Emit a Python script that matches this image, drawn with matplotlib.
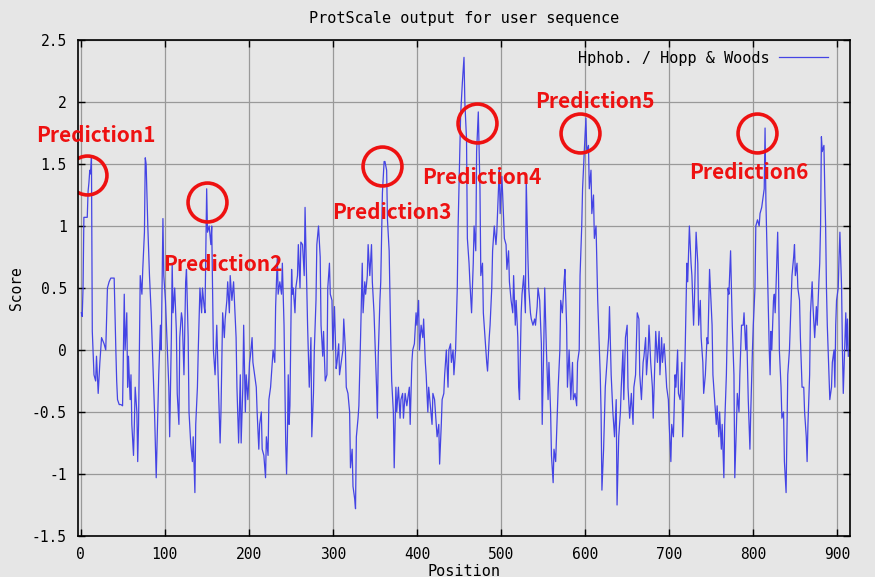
#!/usr/bin/env python3

# INFRASTRUCTURE
from pathlib import Path

import matplotlib
matplotlib.use('Agg')
import matplotlib.pyplot as plt


# DATA
positions = [
    1, 2, 3, 4, 6, 8, 9, 10, 11, 12, 13, 14, 16, 18, 19, 21, 23, 25, 28, 30,
    32, 34, 36, 38, 40, 42, 43, 44, 46, 48, 50, 52, 53, 55, 56, 57, 59, 60, 61, 63,
    64, 65, 67, 68, 69, 71, 73, 74, 76, 77, 78, 80, 82, 84, 86, 88, 90, 91, 93, 95,
    96, 98, 99, 101, 103, 105, 106, 108, 109, 110, 112, 114, 115, 117, 118, 120, 121, 123, 125, 126,
    128, 129, 131, 133, 134, 136, 137, 139, 140, 142, 144, 145, 147, 148, 150, 151, 153, 155, 156, 158,
    160, 162, 164, 166, 167, 169, 171, 172, 174, 175, 177, 178, 180, 182, 183, 185, 186, 188, 190, 191,
    193, 194, 196, 197, 199, 201, 202, 204, 205, 207, 209, 210, 212, 213, 215, 216, 218, 220, 221, 223,
    224, 226, 228, 229, 231, 232, 234, 235, 237, 239, 240, 242, 243, 244, 245, 246, 247, 248, 249, 251,
    252, 253, 255, 256, 258, 259, 261, 262, 264, 266, 267, 269, 270, 272, 274, 275, 277, 278, 280, 281,
    283, 285, 286, 288, 289, 291, 293, 294, 296, 297, 299, 300, 302, 304, 305, 307, 308, 310, 312, 313,
    315, 316, 318, 320, 321, 323, 324, 326, 327, 328, 330, 331, 333, 335, 336, 338, 339, 341, 342, 344,
    346, 347, 349, 350, 352, 353, 354, 356, 357, 359, 361, 362, 364, 365, 367, 369, 370, 372, 373, 375,
    376, 378, 380, 381, 383, 384, 386, 388, 389, 391, 392, 394, 395, 397, 399, 400, 402, 403, 405, 407,
    408, 410, 411, 413, 414, 416, 418, 419, 421, 422, 424, 426, 427, 429, 430, 432, 433, 435, 437, 438,
    440, 441, 443, 444, 446, 448, 449, 451, 452, 454, 456, 457, 459, 460, 462, 463, 465, 467, 468, 470,
    471, 473, 475, 476, 478, 479, 481, 483, 484, 486, 487, 489, 490, 492, 494, 495, 497, 498, 499, 501,
    502, 504, 506, 507, 509, 510, 512, 514, 515, 517, 518, 520, 521, 522, 524, 525, 527, 529, 530, 532,
    533, 535, 536, 538, 540, 541, 543, 544, 546, 548, 549, 551, 552, 554, 556, 557, 559, 560, 562, 563,
    565, 567, 568, 570, 571, 573, 575, 576, 578, 579, 581, 583, 585, 586, 588, 590, 591, 593, 594, 596,
    597, 599, 601, 602, 604, 605, 607, 608, 610, 611, 613, 615, 616, 618, 619, 620, 622, 624, 626, 628,
    629, 631, 633, 635, 637, 638, 640, 642, 643, 645, 646, 648, 650, 651, 653, 655, 657, 658, 660, 662,
    664, 665, 667, 669, 670, 672, 673, 675, 676, 678, 680, 681, 683, 684, 686, 688, 689, 691, 692, 694,
    695, 697, 699, 700, 702, 703, 705, 707, 708, 710, 711, 713, 715, 716, 718, 719, 721, 722, 724, 726,
    727, 729, 730, 732, 734, 735, 737, 738, 740, 741, 743, 745, 746, 748, 749, 751, 752, 754, 756, 757,
    759, 760, 762, 763, 765, 766, 767, 768, 770, 771, 773, 774, 775, 777, 778, 780, 781, 783, 784, 786,
    788, 789, 791, 792, 794, 796, 797, 799, 800, 802, 803, 805, 807, 808, 810, 811, 813, 814, 815, 817,
    818, 819, 820, 821, 822, 824, 825, 826, 827, 829, 830, 831, 833, 834, 836, 837, 839, 840, 841, 843,
    844, 846, 848, 849, 850, 852, 853, 855, 856, 858, 860, 861, 863, 864, 865, 867, 868, 870, 871, 873,
    875, 876, 878, 879, 880, 881, 882, 884, 885, 886, 887, 888, 890, 891, 892, 893, 894, 896, 897, 898,
    899, 901, 902, 903, 905, 906, 907, 909, 910, 911, 912, 913,
]

scores = [
    0.30, 0.27, 0.50, 1.07, 1.07, 1.07, 1.28, 1.35, 1.45, 1.42, 1.55, 0.15, -0.20, -0.25, -0.05, -0.35, -0.10, 0.10, 0.05, 0.00,
    0.50, 0.55, 0.58, 0.58, 0.58, 0.00, -0.25, -0.40, -0.44, -0.44, -0.45, 0.45, 0.00, 0.30, -0.30, -0.05, -0.40, -0.20, -0.60, -0.85,
    -0.60, -0.30, -0.50, -0.90, -0.60, 0.60, 0.45, 0.65, 0.95, 1.55, 1.50, 1.00, 0.60, 0.30, -0.10, -0.50, -1.03, -0.75, -0.20, 0.20,
    0.00, 1.06, 0.60, 0.40, 0.05, -0.30, -0.70, 0.10, 0.70, 0.30, 0.50, 0.15, -0.35, -0.60, 0.10, 0.30, 0.25, -0.20, 0.55, 0.65,
    0.10, -0.50, -0.75, -0.90, -0.70, -1.15, -0.60, -0.30, 0.00, 0.50, 0.30, 0.50, 0.35, 0.30, 1.30, 0.95, 1.00, 0.85, 1.00, 0.00,
    -0.20, 0.20, -0.30, -0.75, -0.50, 0.30, 0.10, 0.25, 0.40, 0.55, 0.30, 0.60, 0.40, 0.55, 0.40, 0.10, -0.30, -0.75, -0.20, -0.75,
    -0.30, 0.20, -0.50, -0.20, -0.40, -0.10, -0.05, 0.10, -0.10, -0.20, -0.30, -0.50, -0.80, -0.60, -0.50, -0.80, -0.85, -1.03, -0.70, -0.85,
    -0.40, -0.30, -0.10, 0.00, -0.10, 0.35, 0.75, 0.45, 0.55, 0.45, 0.70, 0.20, -0.30, -0.75, -1.00, -0.70, -0.20, -0.60, -0.45, 0.65,
    0.45, 0.50, 0.30, 0.50, 0.60, 0.85, 0.50, 0.87, 0.85, 0.60, 1.15, 0.50, 0.20, -0.30, 0.10, -0.70, -0.35, 0.00, 0.40, 0.85,
    1.00, 0.75, 0.20, -0.05, 0.15, -0.25, -0.20, 0.50, 0.70, 0.45, 0.40, 0.00, 0.35, -0.15, -0.10, 0.05, -0.20, -0.10, 0.00, 0.25,
    0.00, -0.30, -0.35, -0.50, -0.95, -0.80, -1.10, -1.20, -1.28, -0.70, -0.55, -0.45, 0.10, 0.70, 0.30, 0.55, 0.45, 0.60, 0.85, 0.60,
    0.85, 0.55, 0.30, 0.10, -0.30, -0.55, -0.05, 0.40, 0.55, 1.27, 1.52, 1.52, 1.45, 1.05, 0.80, 0.05, -0.25, -0.50, -0.95, -0.30,
    -0.50, -0.30, -0.55, -0.40, -0.35, -0.55, -0.35, -0.45, -0.40, -0.30, -0.60, -0.10, 0.00, 0.05, 0.30, 0.20, 0.40, 0.00, 0.20, 0.10,
    0.25, -0.10, -0.20, -0.50, -0.30, -0.45, -0.60, -0.35, -0.40, -0.50, -0.70, -0.60, -0.92, -0.60, -0.40, -0.35, -0.20, 0.00, -0.30, 0.00,
    0.05, -0.10, 0.00, -0.20, 0.00, 0.50, 1.00, 1.60, 1.90, 2.15, 2.36, 2.00, 1.70, 0.90, 0.70, 0.55, 0.30, 0.70, 1.00, 0.80,
    1.60, 1.92, 1.30, 0.60, 0.70, 0.30, 0.10, -0.10, -0.17, 0.10, 0.20, 0.50, 0.80, 1.00, 0.85, 0.95, 1.30, 1.45, 1.10, 1.40,
    1.25, 0.90, 0.85, 0.65, 0.80, 0.55, 0.40, 0.30, 0.60, 0.20, 0.40, 0.10, -0.30, -0.40, 0.30, 0.45, 0.60, 0.30, 1.38, 0.75,
    0.50, 0.30, 0.25, 0.20, 0.25, 0.20, 0.35, 0.50, 0.40, 0.05, -0.60, 0.10, 0.50, 0.00, -0.40, -0.10, -0.50, -0.85, -1.07, -0.80,
    -0.90, -0.50, -0.30, 0.00, 0.40, 0.30, 0.55, 0.65, 0.20, -0.30, 0.00, -0.40, -0.10, -0.40, -0.35, -0.45, -0.10, 0.00, 0.60, 1.00,
    1.30, 1.60, 1.87, 1.60, 1.65, 1.30, 1.45, 1.10, 1.25, 0.90, 1.00, 0.40, 0.20, -0.20, -0.50, -1.13, -0.80, -0.30, -0.10, 0.10,
    0.35, -0.20, -0.50, -0.70, -0.40, -1.25, -0.70, -0.50, -0.30, 0.00, -0.40, 0.10, 0.20, -0.30, -0.55, -0.35, -0.60, -0.30, -0.20, 0.30,
    0.25, -0.20, -0.40, -0.10, -0.05, 0.10, -0.20, 0.00, 0.20, -0.10, -0.30, -0.55, -0.10, 0.15, -0.10, 0.15, -0.20, 0.10, -0.10, 0.05,
    -0.05, -0.30, -0.40, -0.60, -0.90, -0.60, -0.70, -0.20, -0.30, 0.00, -0.35, -0.40, -0.10, -0.70, -0.30, 0.00, 0.70, 0.55, 1.00, 0.70,
    0.60, 0.20, 0.40, 0.95, 0.70, 0.20, 0.40, 0.10, -0.10, -0.35, -0.20, 0.10, 0.05, 0.65, 0.50, 0.20, -0.20, -0.40, -0.60, -0.45,
    -0.70, -0.50, -0.80, -0.60, -1.03, -0.60, -0.40, -0.20, 0.50, 0.45, 0.80, 0.50, 0.20, -0.20, -1.03, -0.60, -0.35, -0.50, -0.20, 0.20,
    0.20, 0.30, 0.00, 0.20, -0.40, -0.80, -0.50, 0.00, 0.20, 0.50, 1.00, 1.05, 1.00, 1.10, 1.15, 1.20, 1.30, 1.79, 1.20, 0.60,
    0.30, 0.00, -0.20, 0.15, 0.00, 0.40, 0.45, 0.30, 0.50, 0.95, 0.60, 0.00, -0.30, -0.55, -0.50, -0.90, -1.15, -0.70, -0.20, 0.00,
    0.20, 0.60, 0.75, 0.85, 0.60, 0.70, 0.50, 0.40, 0.10, -0.30, -0.30, -0.50, -0.70, -0.90, -0.60, -0.20, 0.30, 0.55, 0.35, 0.10,
    0.35, 0.20, 0.55, 0.70, 1.00, 1.72, 1.60, 1.65, 1.30, 1.00, 0.50, 0.20, -0.20, -0.40, -0.35, -0.30, -0.10, 0.00, -0.30, 0.20,
    0.40, 0.50, 0.75, 0.95, 0.50, 0.00, -0.35, 0.10, 0.30, 0.00, 0.25, -0.05,
]

# Red hand-drawn marks: circle centres and label centres (position, score)
circle_pos = [8, 150, 358, 471, 594, 805]
circle_score = [1.41, 1.19, 1.48, 1.83, 1.75, 1.75]
label_text = ['Prediction1', 'Prediction2', 'Prediction3', 'Prediction4', 'Prediction5', 'Prediction6']
label_pos = [18, 169, 370, 477, 612, 795]
label_score = [1.73, 0.69, 1.11, 1.39, 2.0, 1.43]

y_ticks = [-1.5, -1, -0.5, 0, 0.5, 1, 1.5, 2, 2.5]
y_tick_labels = ['-1.5', '-1', '-0.5', '0', '0.5', '1', '1.5', '2', '2.5']
x_ticks = [0, 100, 200, 300, 400, 500, 600, 700, 800, 900]

BG = '#e6e6e6'
LINE_COLOR = '#4444e4'
MONO = 'DejaVu Sans Mono'


# FUNCTIONS

# Build the ProtScale-style profile plot
def create_plot():
    fig = plt.figure(figsize=(8.75, 5.77), dpi=100, facecolor=BG)
    ax = fig.add_axes([78 / 875, 1 - 536 / 577, 772 / 875, 496 / 577])
    ax.set_facecolor(BG)

    ax.plot(positions, scores, color=LINE_COLOR, linewidth=0.9,
            label='Hphob. / Hopp & Woods')

    ax.set_xlim(-3, 915)
    ax.set_ylim(-1.5, 2.5)
    ax.set_xticks(x_ticks)
    ax.set_xticklabels([str(t) for t in x_ticks], family=MONO, fontsize=10.5)
    ax.set_yticks(y_ticks)
    ax.set_yticklabels(y_tick_labels, family=MONO, fontsize=10.5)
    ax.tick_params(direction='in', top=True, right=True, length=5, width=1, pad=8)
    ax.grid(True, color='#999999', linewidth=0.9)
    ax.set_axisbelow(True)
    for spine in ax.spines.values():
        spine.set_linewidth(1.2)

    ax.set_title('ProtScale output for user sequence', family=MONO, fontsize=11, pad=12)
    ax.set_xlabel('Position', family=MONO, fontsize=11, labelpad=1)
    ax.set_ylabel('Score', family=MONO, fontsize=10.5, labelpad=6)

    ax.legend(loc='upper right', bbox_to_anchor=(0.985, 1.0), frameon=False,
              markerfirst=False, handlelength=3.2, handletextpad=0.6, borderaxespad=0.3,
              prop={'family': MONO, 'size': 11})

    # red circles and labels added on top of the picture
    ax.plot(circle_pos, circle_score, linestyle='none', marker='o', markersize=28,
            markerfacecolor='none', markeredgecolor='#ee1111', markeredgewidth=2.6)
    for text, px, py in zip(label_text, label_pos, label_score):
        ax.text(px, py, text, color='#ee1111', fontsize=15, fontweight='bold',
                family=['Noto Sans CJK KR', 'DejaVu Sans'], ha='center', va='center')

    return fig


# Save plot to file
def save_plot(fig):
    fig.savefig(Path('out.png'), dpi=100, facecolor=BG)
    plt.close(fig)


if __name__ == "__main__":
    save_plot(create_plot())
